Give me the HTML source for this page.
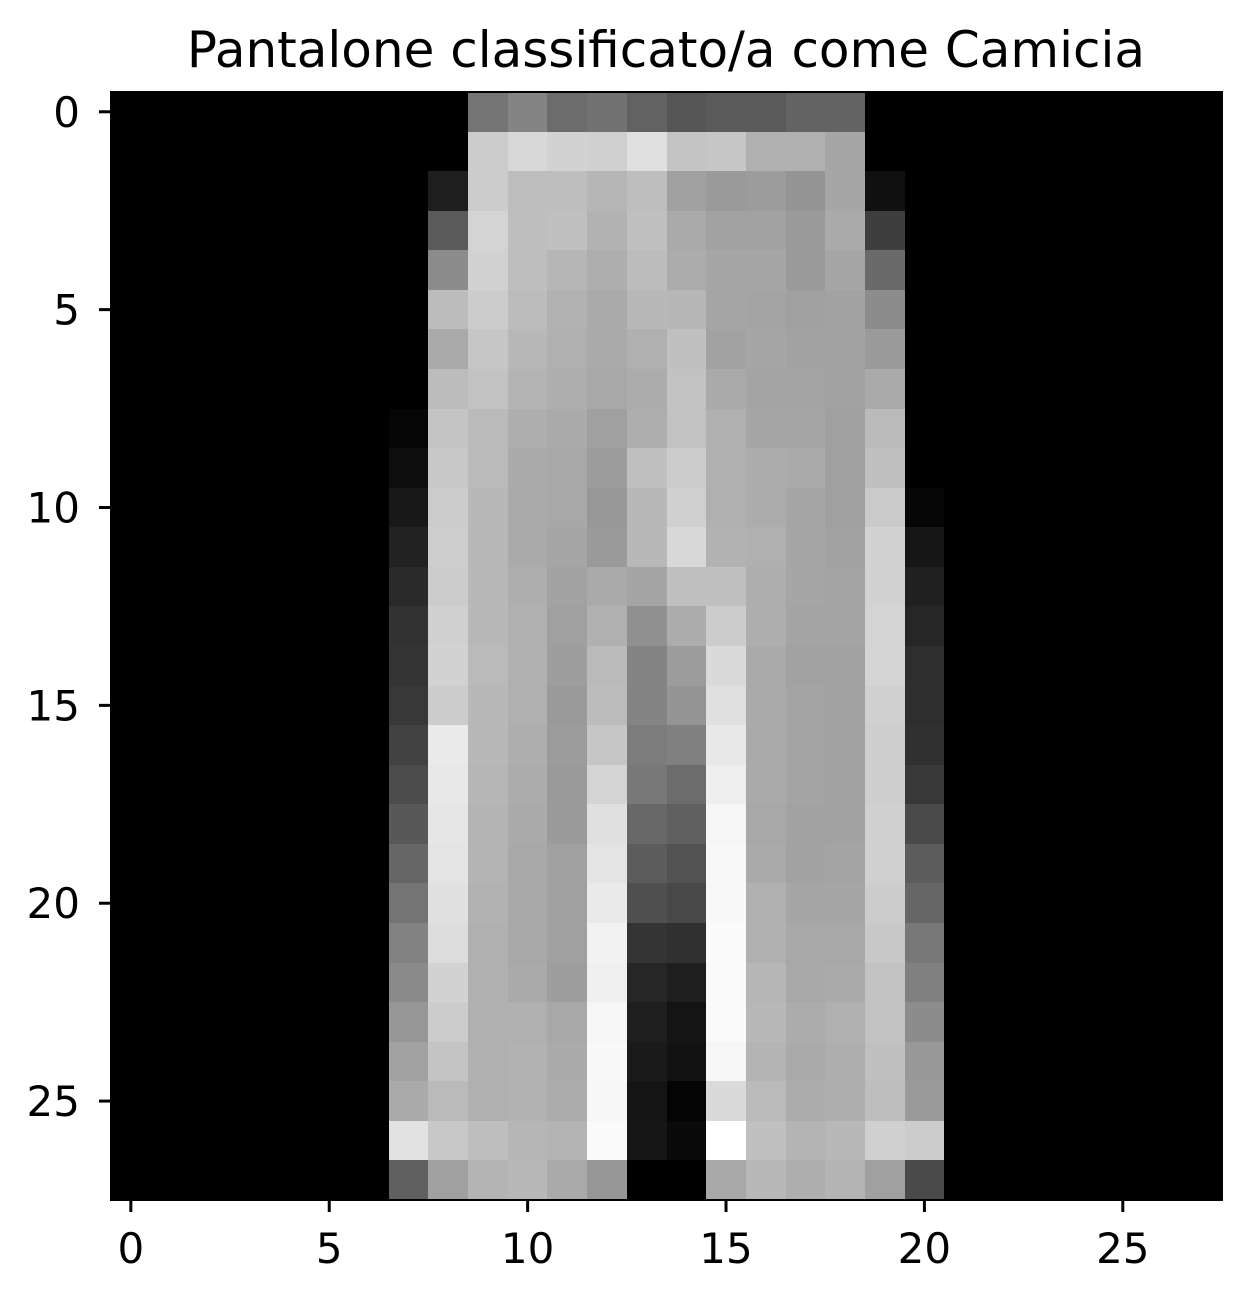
<!DOCTYPE html>
<html><head><meta charset="utf-8"><style>
html,body{margin:0;padding:0;background:#fff;}
svg{display:block;font-family:"DejaVu Sans","Liberation Sans",sans-serif;}
</style></head><body>
<svg id="chart" width="1250" height="1302" viewBox="0 0 1250 1302" xmlns="http://www.w3.org/2000/svg">
<text x="666" y="67" font-size="50" text-anchor="middle" fill="#000">Pantalone classificato/a come Camicia</text>
<g id="cells" shape-rendering="crispEdges"></g>
<g id="axes"></g>
</svg>
<script>
// image rows (0..27); non-black columns start at colStart
const colStart = [9,9,8,8,8,8,8,8,7,7,7,7,7,7,7,7,7,7,7,7,7,7,7,7,7,7,7,7];
const rowValues = [
"74 84 6c 72 62 55 5a 5a 63 63",
"cc d8 d2 d0 e0 c4 c6 b0 b0 a6",
"1e cc be be b6 be a0 9a 9c 94 a6 10",
"5a d4 be c0 b2 c0 aa a2 a2 9a aa 3e",
"8c d2 be b6 ae bc ac a6 a6 9a a6 6a",
"bc cc bc b2 aa b8 b6 a6 a4 a0 a2 8c",
"aa c6 b8 b0 aa b0 c0 a2 a6 a2 a2 9a",
"bc c2 b4 ae a8 ac c2 aa a4 a4 a2 aa",
"06 c4 ba ae aa a0 ae c2 b0 a6 a6 a0 ba",
"0e c8 ba aa a8 9c c0 cc b0 ac aa a0 c0",
"18 cc b8 aa a8 98 b8 d0 b0 ac a6 a0 ca 06",
"22 ce b8 aa a6 9a b8 d8 b2 b0 a6 a2 d2 16",
"2a cc b8 ae a2 aa a4 c0 c0 ae a6 a4 d2 20",
"32 d0 b8 b0 a0 b0 90 ac cc ae a4 a4 d4 26",
"34 d2 ba b0 9e ba 84 9c da aa a2 a2 d4 2e",
"38 cc b8 b0 9a bc 84 94 e0 aa a4 a2 d0 2e",
"42 ea b8 ae 9c c6 7c 80 e8 aa a4 a2 ce 30",
"4c e8 b6 ac 9a d4 78 6c ee aa a4 a2 ce 38",
"58 e6 b4 aa 9a e0 68 60 f6 a8 a2 a2 d0 4a",
"66 e4 b4 a8 a0 e4 5c 52 f8 aa a2 a4 d0 5c",
"74 e0 b2 a8 a0 ea 50 48 f8 b0 a6 a6 cc 66",
"82 dc b0 a8 a0 f2 34 30 fa b0 a8 a8 c8 78",
"8a d2 b0 aa 9e f0 26 1e fa b6 a8 aa c2 80",
"96 cc b0 b0 a8 f6 1e 14 fa b8 ac b0 c2 8c",
"a2 c4 b0 b2 aa f8 1a 12 f6 b4 aa ae c0 98",
"aa ba b0 b2 ac f6 14 04 da ba ac ae be 9a",
"e2 c8 be b6 b4 fa 16 0a ff c0 b4 b8 d0 cc",
"60 a0 b4 b8 aa 96 00 00 a8 b8 ae b4 a0 4a"
];
const xTicks = [0,5,10,15,20,25];
const yTicks = [0,5,10,15,20,25];
const nCols = 28, nRows = 28;

const L=111, R=1222, T=92, B=1200;
const cw=(R-L)/nCols, ch=(B-T)/nRows;
const xPos = c => L + c*cw;
const yPos = r => T + r*ch;
const NS="http://www.w3.org/2000/svg";
const cells=document.getElementById('cells');
const axes=document.getElementById('axes');

const bg=document.createElementNS(NS,'rect');


bg.setAttribute('x',L);bg.setAttribute('y',T);bg.setAttribute('width',R-L);bg.setAttribute('height',B-T);bg.setAttribute('fill','#000');
cells.appendChild(bg);

rowValues.forEach((row,r)=>{
  row.split(' ').forEach((h,i)=>{
    const v=parseInt(h,16);
    const c=colStart[r]+i;
    const x0=Math.round(xPos(c)), x1=Math.round(xPos(c+1));
    const y0=Math.round(yPos(r)), y1=Math.round(yPos(r+1));
    const el=document.createElementNS(NS,'rect');
    
    
    el.setAttribute('x',x0);el.setAttribute('y',y0);
    el.setAttribute('width',x1-x0);el.setAttribute('height',y1-y0);
    el.setAttribute('fill',`rgb(${v},${v},${v})`);
    cells.appendChild(el);
  });
});

const frame=document.createElementNS(NS,'rect');


frame.setAttribute('x',L);frame.setAttribute('y',T);frame.setAttribute('width',R-L);frame.setAttribute('height',B-T);
frame.setAttribute('fill','none');frame.setAttribute('stroke','#000');frame.setAttribute('stroke-width','2');
axes.appendChild(frame);

xTicks.forEach(t=>{
  const x=xPos(t+0.5);
  const ln=document.createElementNS(NS,'line');
  
  
  ln.setAttribute('x1',x);ln.setAttribute('x2',x);ln.setAttribute('y1',B);ln.setAttribute('y2',B+12);
  ln.setAttribute('stroke','#000');ln.setAttribute('stroke-width','3');
  axes.appendChild(ln);
  const tx=document.createElementNS(NS,'text');
  
  
  tx.setAttribute('x',x);tx.setAttribute('y',B+63);
  tx.setAttribute('font-size','42');tx.setAttribute('text-anchor','middle');
  tx.textContent=t;
  axes.appendChild(tx);
});
yTicks.forEach(t=>{
  const y=yPos(t+0.5);
  const ln=document.createElementNS(NS,'line');
  
  
  ln.setAttribute('x1',L-12);ln.setAttribute('x2',L);ln.setAttribute('y1',y);ln.setAttribute('y2',y);
  ln.setAttribute('stroke','#000');ln.setAttribute('stroke-width','3');
  axes.appendChild(ln);
  const tx=document.createElementNS(NS,'text');
  
  
  tx.setAttribute('x',L-31);tx.setAttribute('y',y+15);
  tx.setAttribute('font-size','42');tx.setAttribute('text-anchor','end');
  tx.textContent=t;
  axes.appendChild(tx);
});
</script>
</body></html>
